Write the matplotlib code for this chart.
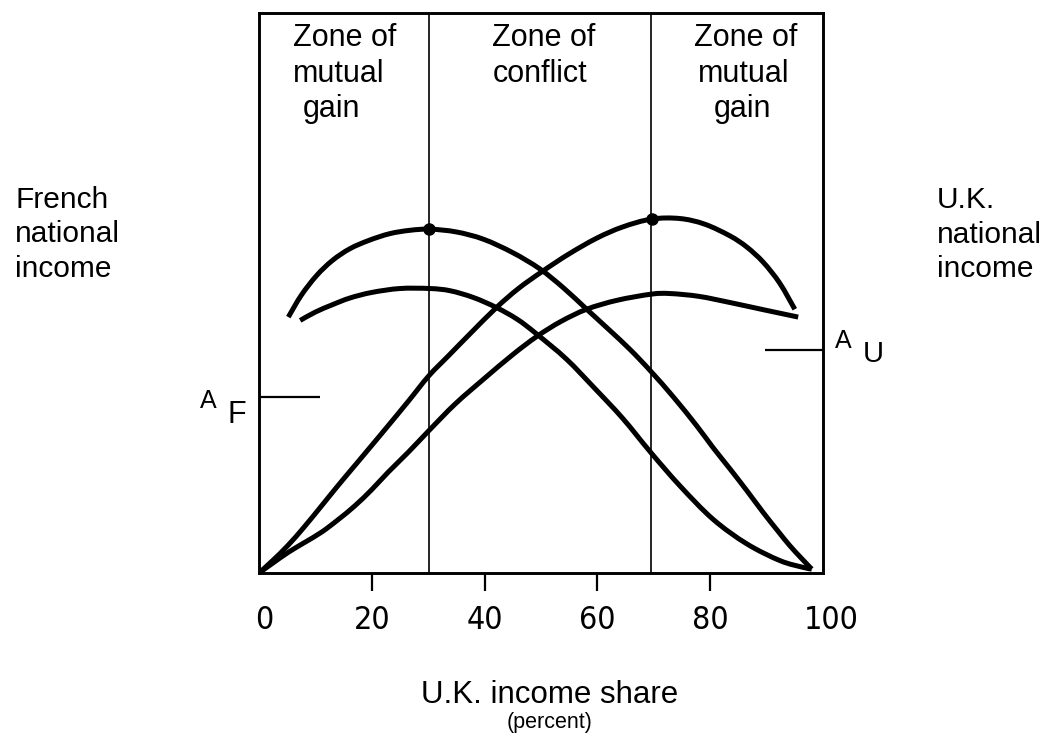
import matplotlib
matplotlib.use("Agg")
import matplotlib.pyplot as plt
from matplotlib.path import Path
from matplotlib.patches import PathPatch
from matplotlib.transforms import ScaledTranslation

plt.rcParams['font.family'] = ['Liberation Sans', 'DejaVu Sans']

# ---- data ----
# French national income, upper curve
french_hi_x = [5.2, 7.5, 10.2, 13.0, 16.1, 19.5, 23.2, 26.8, 30.3, 35.0, 39.8, 45.0, 49.8, 54.0,
               58.1, 62.0, 65.8, 69.4, 73.5, 77.6, 80.5, 83.5, 86.5, 89.4, 92.0, 94.1, 96.2, 98.0]
french_hi_y = [45.7, 49.6, 53.1, 55.8, 57.9, 59.4, 60.6, 61.2, 61.4, 60.9, 59.6, 57.2, 54.3, 50.9,
               47.1, 43.5, 39.9, 36.1, 31.4, 26.3, 22.4, 18.6, 14.7, 10.8, 7.5, 4.9, 2.6, 0.7]
# French national income, lower curve
french_lo_x = [7.3, 10.0, 13.0, 16.1, 20.0, 25.0, 30.3, 33.9, 38.0, 42.1, 45.8, 49.2, 54.5, 59.5,
               64.5, 69.4, 74.6, 80.5, 86.5, 92.4, 96.5, 98.0]
french_lo_y = [45.1, 46.6, 47.9, 49.1, 50.1, 50.8, 50.8, 50.4, 49.2, 47.4, 45.3, 42.7, 38.2, 33.0,
               27.6, 21.6, 15.6, 9.6, 5.2, 2.2, 1.0, 0.7]
# U.K. national income, upper curve
uk_hi_x = [0.0, 2.5, 5.2, 8.0, 11.1, 14.0, 17.0, 20.0, 22.9, 26.5, 30.1, 33.6, 37.5, 42.1, 46.0,
           50.3, 55.0, 59.9, 64.5, 69.6, 74.6, 79.0, 83.5, 86.5, 89.4, 92.3, 95.0]
uk_hi_y = [0.0, 2.3, 5.0, 8.2, 12.0, 15.6, 19.2, 22.8, 26.3, 30.7, 35.2, 38.8, 42.8, 47.4, 50.8,
           53.9, 57.0, 59.8, 61.8, 63.2, 63.3, 62.3, 60.2, 58.2, 55.5, 51.8, 47.1]
# U.K. national income, lower curve
uk_lo_x = [0.0, 2.5, 5.2, 8.0, 11.1, 14.0, 17.0, 20.0, 22.9, 26.5, 30.1, 34.8, 39.8, 45.0, 49.2,
           53.5, 58.1, 63.5, 69.6, 72.9, 78.0, 83.5, 89.5, 95.6]
uk_lo_y = [0.0, 1.8, 3.7, 5.4, 7.3, 9.5, 12.0, 14.9, 18.0, 21.6, 25.4, 30.2, 34.6, 39.0, 42.2,
           44.9, 47.1, 48.7, 49.8, 49.9, 49.4, 48.3, 47.0, 45.7]

# optimum points
peak_x = [30.1, 69.6]
peak_y = [61.4, 63.2]

# zone boundaries
zone_bounds = [30.1, 69.5]

# autarky levels
af_level = 31.4
af_span = [0, 10.8]
au_level = 39.8
au_span = [89.7, 100]

xtick_vals = [0, 20, 40, 60, 80, 100]
xtick_labels = ['0', '20', '40', '60', '80', '100']

W, H = 1046, 742
fig = plt.figure(figsize=(W / 100, H / 100), dpi=100)
fig.patch.set_facecolor('white')
ax = fig.add_axes([259 / W, 1 - 573 / H, 564 / W, 560 / H])
ax.set_xlim(0, 100)
ax.set_ylim(0, 100)
for s in ax.spines.values():
    s.set_linewidth(2.1)
ax.set_yticks([])
ax.set_xticks(xtick_vals)
ax.set_xticklabels(xtick_labels, fontfamily='DejaVu Sans', fontstretch='condensed',
                   fontweight='light', fontsize=23)
ax.tick_params(axis='x', direction='out', length=13, width=1.6, pad=10)
ticks = ax.xaxis.get_major_ticks()
ticks[0].tick1line.set_visible(False)
ticks[-1].tick1line.set_visible(False)
for t, dx in [(ticks[0], 5), (ticks[-1], 8)]:
    lab = t.label1
    lab.set_transform(lab.get_transform() + ScaledTranslation(dx / 100, 0, fig.dpi_scale_trans))

for b in zone_bounds:
    ax.axvline(b, color='black', lw=1.2)


def smooth_curve(xs, ys):
    pts = list(zip(xs, ys))
    verts = [pts[0]]
    codes = [Path.MOVETO]
    n = len(pts)
    for i in range(n - 1):
        p0 = pts[i - 1] if i > 0 else pts[i]
        p1 = pts[i]
        p2 = pts[i + 1]
        p3 = pts[i + 2] if i + 2 < n else pts[i + 1]
        c1 = (p1[0] + (p2[0] - p0[0]) / 6, p1[1] + (p2[1] - p0[1]) / 6)
        c2 = (p2[0] - (p3[0] - p1[0]) / 6, p2[1] - (p3[1] - p1[1]) / 6)
        verts += [c1, c2, p2]
        codes += [Path.CURVE4] * 3
    return Path(verts, codes)


for xs, ys in [(french_hi_x, french_hi_y), (french_lo_x, french_lo_y),
               (uk_hi_x, uk_hi_y), (uk_lo_x, uk_lo_y)]:
    ax.add_patch(PathPatch(smooth_curve(xs, ys), fill=False, edgecolor='black', lw=3.6,
                           capstyle='butt', joinstyle='round'))
ax.plot(peak_x, peak_y, 'o', color='black', ms=8, zorder=5)

ax.plot(af_span, [af_level, af_level], color='black', lw=1.6, solid_capstyle='butt', clip_on=False)
ax.plot(au_span, [au_level, au_level], color='black', lw=1.6, solid_capstyle='butt', clip_on=False)


def ftext(x, y, s, **k):
    fig.text(x / W, 1 - y / H, s, va='baseline', **k)


# zone labels
zone_fs = 22
for lines in [[(293, 'Zone of'), (293, 'mutual'), (303, 'gain')],
              [(492, 'Zone of'), (493, 'conflict')],
              [(694, 'Zone of'), (698, 'mutual'), (714, 'gain')]]:
    for (lx, txt), by in zip(lines, [46, 82, 117]):
        ftext(lx, by, txt, ha='left', fontsize=zone_fs)

side_fs = 21.5
for txt, by in zip(['French', 'national', 'income'], [208, 242, 277]):
    ftext(15, by, txt, ha='left', fontsize=side_fs)
for txt, by in zip(['U.K.', 'national', 'income'], [208, 243, 277]):
    ftext(937, by, txt, ha='left', fontsize=side_fs)

ftext(550, 703, 'U.K. income share', ha='center', fontsize=22.5)
ftext(550, 728, '(percent)', ha='center', fontsize=15.5)

ftext(200, 408, 'A', ha='left', fontsize=18)
ftext(227, 423, 'F', ha='left', fontsize=22)
ftext(835, 348, 'A', ha='left', fontsize=18)
ftext(863, 362, 'U', ha='left', fontsize=21)

fig.savefig('out.png', dpi=100)
